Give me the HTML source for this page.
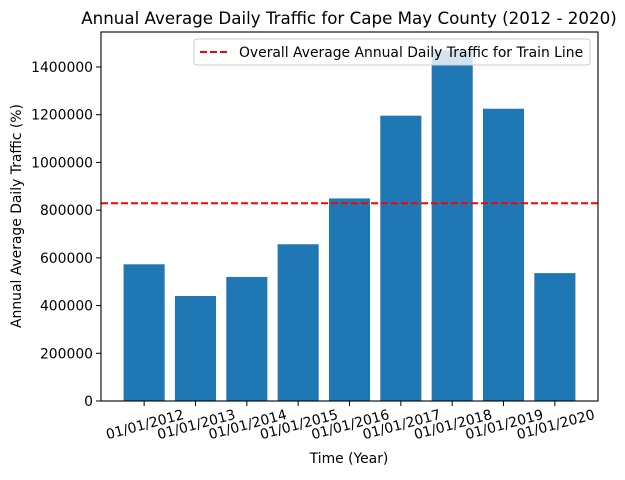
<!DOCTYPE html>
<html><head><meta charset="utf-8"><style>
body{margin:0;background:#fff}
svg text{font-family:"DejaVu Sans","Liberation Sans",sans-serif;fill:#000}
</style></head><body>
<svg id="c" width="625" height="475">
<text x="349" y="24" font-size="16.7" text-anchor="middle">Annual Average Daily Traffic for Cape May County (2012 - 2020)</text>
<text x="349" y="463" font-size="13.9" text-anchor="middle">Time (Year)</text>
<text transform="translate(21,216) rotate(-90)" font-size="13.9" text-anchor="middle">Annual Average Daily Traffic (%)</text>
<g id="g"></g>
</svg>
<script>
const categories=["01/01/2012","01/01/2013","01/01/2014","01/01/2015","01/01/2016","01/01/2017","01/01/2018","01/01/2019","01/01/2020"];
const values=[573000,440000,520000,657000,849000,1196000,1470000,1225000,536000];
const average=[829000];
const yTicks=[0,200000,400000,600000,800000,1000000,1200000,1400000];
const L=101,R=598,T=32,B=401,yMax=1546700;
const y=v=>B-v/yMax*(B-T);
const xmin=-0.84,xmax=categories.length-1+0.84;
const x=i=>L+(i-xmin)/(xmax-xmin)*(R-L);
const bw=0.8*(R-L)/(xmax-xmin);
const ns="http://www.w3.org/2000/svg",g=document.getElementById('g');
function mk(t,a,txt){const e=document.createElementNS(ns,t);for(const k in a)e.setAttribute(k,a[k]);if(txt!=null)e.textContent=txt;g.appendChild(e);return e;}
values.forEach((v,i)=>{
const r=mk('rect',{x:x(i)-bw/2,y:y(v),width:bw,height:B-y(v),fill:'#1f77b4'});


mk('line',{x1:x(i),x2:x(i),y1:B,y2:B+5,stroke:'#000'});
const t=mk('text',{'font-size':13.9,'text-anchor':'middle',transform:`translate(${x(i)+2},${B+28}) rotate(-15)`},categories[i]);


});
yTicks.forEach(v=>{
mk('line',{x1:L-5,x2:L,y1:y(v),y2:y(v),stroke:'#000'});
const t=mk('text',{x:L-8,y:y(v)+5,'font-size':13.9,'text-anchor':'end'},v);


});
const al=mk('line',{x1:L,x2:R,y1:y(average[0]),y2:y(average[0]),stroke:'red','stroke-width':2,'stroke-dasharray':'7,3'});


const fr=mk('rect',{x:L,y:T,width:R-L,height:B-T,fill:'none',stroke:'#000','stroke-width':1.1});


const lg=mk('rect',{x:194,y:39,width:396,height:26,rx:3,fill:'rgba(255,255,255,0.8)',stroke:'#ccc'});


mk('line',{x1:200,x2:228,y1:52,y2:52,stroke:'red','stroke-width':2,'stroke-dasharray':'7,3'});
const lt=mk('text',{x:239,y:57,'font-size':13.9},'Overall Average Annual Daily Traffic for Train Line');


</script>
</body></html>
